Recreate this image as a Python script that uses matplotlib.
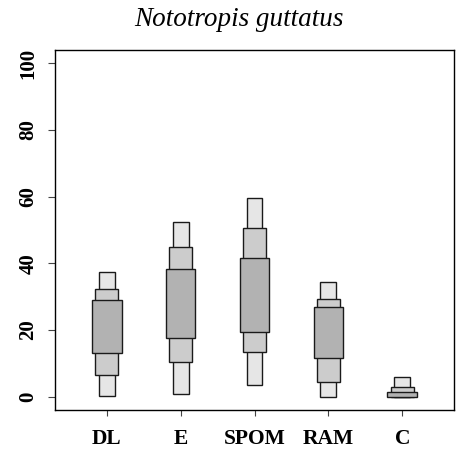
import matplotlib
matplotlib.use("Agg")
import matplotlib.pyplot as plt
from matplotlib.patches import Rectangle

categories = ['DL', 'E', 'SPOM', 'RAM', 'C']
lo95 = [0.3, 0.7, 3.4, 0.0, 0.0]
hi95 = [37.3, 52.5, 59.5, 34.5, 5.8]
lo75 = [6.5, 10.3, 13.5, 4.3, 0.0]
hi75 = [32.2, 45.0, 50.7, 29.2, 2.8]
lo50 = [13.0, 17.5, 19.3, 11.5, 0.0]
hi50 = [28.9, 38.2, 41.5, 26.8, 1.4]
yticks = [0, 20, 40, 60, 80, 100]

plt.rcParams['font.family'] = ['Liberation Serif', 'DejaVu Serif']

fig = plt.figure(figsize=(4.63, 4.53), dpi=100)
ax = fig.add_axes([55/463, 1-410/453, (454-55)/463, 360/453])

levels = [(lo95, hi95, 0.215, '#e6e6e6'),
          (lo75, hi75, 0.305, '#cccccc'),
          (lo50, hi50, 0.40, '#b2b2b2')]
for lo, hi, w, col in levels:
    for i, (a, b) in enumerate(zip(lo, hi)):
        x = i + 1
        ax.add_patch(Rectangle((x - w/2, a), w, b - a, facecolor=col,
                               edgecolor='#1a1a1a', linewidth=1.0))

ax.set_xlim(0.3, 5.7)
ax.set_ylim(-4, 104)
ax.set_xticks(range(1, len(categories) + 1))
ax.set_xticklabels(categories, fontsize=15.5, fontweight='bold')
ax.set_yticks(yticks)
ax.set_yticklabels([str(v) for v in yticks], fontsize=15, fontweight='bold',
                   rotation=90, va='center')
ax.tick_params(axis='x', length=4, width=0.8, pad=10, color='#444444')
ax.tick_params(axis='y', length=5, width=0.8, pad=7, color='#444444')
for s in ax.spines.values():
    s.set_linewidth(1.0)

fig.text(239/463, 1-19/453, 'Nototropis guttatus', fontsize=19.5, style='italic',
         ha='center', va='center')

fig.savefig('out.png', dpi=100)
